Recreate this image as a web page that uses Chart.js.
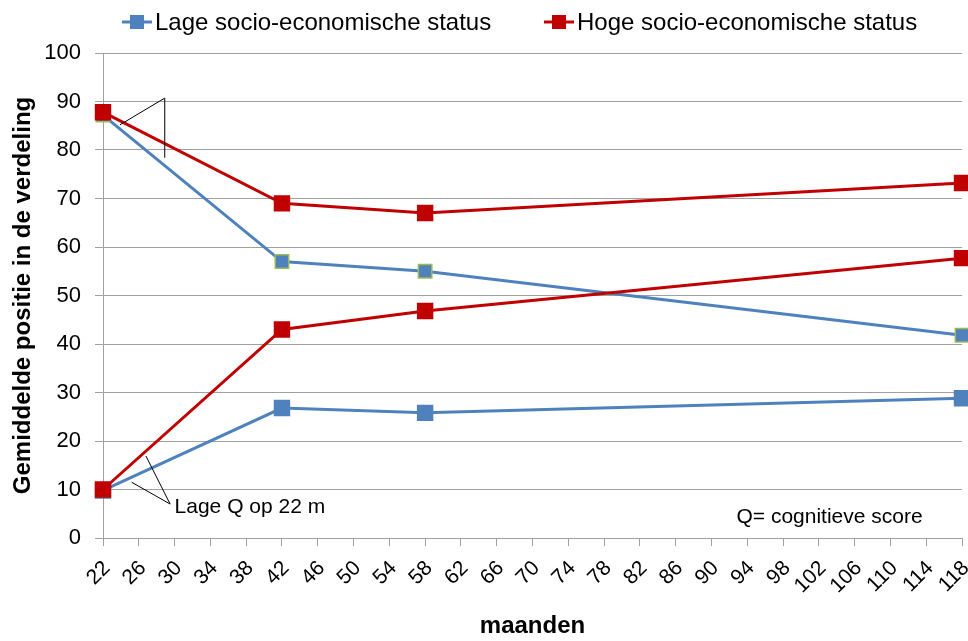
<!DOCTYPE html>
<html>
<head>
<meta charset="utf-8">
<script src="https://cdn.jsdelivr.net/npm/chart.js@4/dist/chart.umd.min.js"></script>
<style>
  html, body { margin: 0; padding: 0; background: #fff; }
  #wrap { width: 968px; height: 641px; }
</style>
</head>
<body>
<div id="wrap"><canvas id="myChart" width="968" height="641"></canvas></div>
<script>
const months = [22, 42, 58, 118];
const lageHoogQ = [87.2, 57.0, 55.0, 41.8];
const hogeHoogQ = [87.8, 69.0, 67.0, 73.2];
const lageLaagQ = [9.8, 26.8, 25.8, 28.8];
const hogeLaagQ = [10.0, 43.0, 46.8, 57.7];
const seriesNames = ["Lage socio-economische status", "Hoge socio-economische status"];

const blue = "#4F81BD";
const red = "#C00000";
const font = "'Liberation Sans', Arial, sans-serif";

function pts(vals) {
  return months.map((m, i) => ({ x: m, y: vals[i] }));
}

// red series drawn on top of blue (order 0 = drawn last)
const data = {
  datasets: [
    {
      label: seriesNames[0],
      data: pts(lageHoogQ),
      borderColor: blue,
      backgroundColor: blue,
      pointBorderColor: "#9BBB59",
      pointBorderWidth: 1.5,
      order: 1,
    },
    {
      label: seriesNames[1],
      data: pts(hogeHoogQ),
      borderColor: red,
      backgroundColor: red,
      pointBorderColor: red,
      order: 0,
    },
    {
      label: seriesNames[0] + " (lage Q)",
      data: pts(lageLaagQ),
      borderColor: blue,
      backgroundColor: blue,
      pointBorderColor: blue,
      order: 1,
    },
    {
      label: seriesNames[1] + " (lage Q)",
      data: pts(hogeLaagQ),
      borderColor: red,
      backgroundColor: red,
      pointBorderColor: red,
      order: 0,
    },
  ],
};
data.datasets.forEach(d => {
  d.borderWidth = 3;
  d.pointStyle = "rect";
  d.pointRadius = 9.5;
  d.pointHoverRadius = 9.5;
  d.fill = false;
  d.tension = 0;
  d.clip = false;
});

// legend (line + square like Excel), callout lines and text notes
const notes = {
  id: "notes",
  afterDraw(chart) {
    const { ctx, scales: { x, y } } = chart;
    ctx.save();

    // legend
    const items = [
      { name: seriesNames[0], color: blue, cx: 137 },
      { name: seriesNames[1], color: red, cx: 559 },
    ];
    ctx.font = "24px " + font;
    ctx.textBaseline = "middle";
    ctx.textAlign = "left";
    items.forEach(it => {
      ctx.strokeStyle = it.color;
      ctx.lineWidth = 3;
      ctx.beginPath();
      ctx.moveTo(it.cx - 15, 22);
      ctx.lineTo(it.cx + 15, 22);
      ctx.stroke();
      ctx.fillStyle = it.color;
      ctx.fillRect(it.cx - 7, 15, 14, 14);
      ctx.fillStyle = "#000";
      ctx.fillText(it.name, it.cx + 18, 23);
    });

    const line = (a, b) => {
      ctx.beginPath();
      ctx.moveTo(x.getPixelForValue(a[0]), y.getPixelForValue(a[1]));
      ctx.lineTo(x.getPixelForValue(b[0]), y.getPixelForValue(b[1]));
      ctx.stroke();
    };
    ctx.strokeStyle = "#000";
    ctx.lineWidth = 1;
    line([28.9, 90.7], [23.9, 85.2]);
    line([28.9, 90.7], [28.9, 78.4]);
    line([29.5, 7.0], [25.2, 11.5]);
    line([29.5, 7.0], [26.8, 16.9]);
    ctx.fillStyle = "#000";
    ctx.font = "21px " + font;
    ctx.textAlign = "left";
    ctx.fillText("Lage Q op 22 m", x.getPixelForValue(30.0), y.getPixelForValue(6.3));
    ctx.textAlign = "center";
    ctx.fillText("Q= cognitieve score", x.getPixelForValue(103.2), y.getPixelForValue(4.3));
    ctx.restore();
  },
};

const options = {
  responsive: false,
  animation: false,
  layout: { autoPadding: false, padding: { left: 9, right: 0, top: 53, bottom: 0 } },
  plugins: {
    legend: { display: false },
    tooltip: { enabled: false },
  },
  scales: {
    x: {
      type: "linear",
      min: 22,
      max: 118,
      afterFit(scale) {
        scale.height = 103;
        scale.paddingRight = 6;
        scale.paddingLeft = 0;
      },
      ticks: {
        stepSize: 4,
        autoSkip: false,
        minRotation: 45,
        maxRotation: 45,
        labelOffset: 4,
        color: "#000",
        font: { family: font, size: 21 },
        padding: 10,
      },
      grid: {
        display: true,
        drawOnChartArea: false,
        drawTicks: true,
        tickLength: 8,
        color: "#a0a0a0",
      },
      border: { color: "#a0a0a0", width: 1 },
      title: {
        display: true,
        text: "maanden",
        color: "#000",
        font: { family: font, size: 24, weight: "bold" },
        padding: { top: 0, bottom: 0 },
      },
    },
    y: {
      min: 0,
      max: 100,
      afterFit(scale) {
        scale.width = 94;
      },
      ticks: {
        stepSize: 10,
        color: "#000",
        font: { family: font, size: 22 },
        padding: 14,
      },
      grid: {
        color: "#a0a0a0",
        tickLength: 8,
      },
      border: { color: "#a0a0a0", width: 1 },
      title: {
        display: true,
        text: "Gemiddelde positie in de verdeling",
        color: "#000",
        font: { family: font, size: 24, weight: "bold" },
        padding: { top: 0, bottom: 4 },
      },
    },
  },
};

const chart = new Chart("myChart", {
  type: "line",
  data: data,
  options: options,
  plugins: [notes],
});
</script>
</body>
</html>
